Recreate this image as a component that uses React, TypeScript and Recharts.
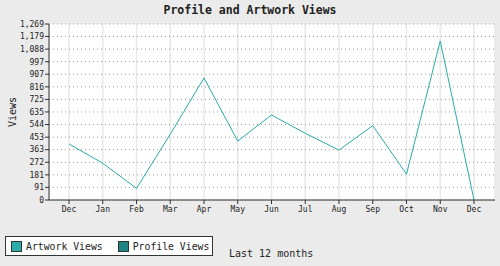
import React from "react";
import { LineChart, Line, XAxis, YAxis, CartesianGrid } from "recharts";

const months = ["Dec", "Jan", "Feb", "Mar", "Apr", "May", "Jun", "Jul", "Aug", "Sep", "Oct", "Nov", "Dec"];
const artworkViews = [404, 265, 84, 474, 880, 425, 613, 481, 360, 536, 187, 1146, 0];
const yTicks = [0, 91, 181, 272, 363, 453, 544, 635, 725, 816, 907, 997, 1088, 1179, 1269];
const seriesNames = ["Artwork Views", "Profile Views"];
const seriesColors = ["#2aaca8", "#1f8584"];

const data = months.map((m, i) => ({ idx: i, month: m, artwork: artworkViews[i] }));

const FONT = "'DejaVu Sans Mono', monospace";

const LegendBox = () => (
  <div
    style={{
      position: "absolute",
      left: 5,
      top: 236,
      display: "flex",
      alignItems: "center",
      border: "1px solid #333",
      background: "#fff",
      width: 206,
      height: 18,
      boxSizing: "content-box",
      fontFamily: FONT,
      fontSize: 9.8,
      color: "#222",
      whiteSpace: "nowrap",
    }}
  >
    {seriesNames.map((n, i) => (
      <div key={n} style={{ display: "flex", alignItems: "center", marginLeft: i === 0 ? 5 : 15 }}>
        <div style={{ width: 9, height: 9, background: seriesColors[i], border: "1px solid #333", marginRight: 4 }} />
        <span>{n}</span>
      </div>
    ))}
  </div>
);

export default function App() {
  return (
    <div style={{ position: "absolute", left: 0, top: 0, width: 500, height: 266, background: "#ebebeb", overflow: "hidden" }}>
      <div
        style={{
          position: "absolute",
          left: 0,
          top: 3,
          width: 500,
          textAlign: "center",
          fontFamily: FONT,
          fontWeight: "bold",
          fontSize: 11.5,
          color: "#222",
        }}
      >
        Profile and Artwork Views
      </div>
      <div
        style={{
          position: "absolute",
          left: 12,
          top: 112,
          transform: "translate(-50%, -50%) rotate(-90deg)",
          fontFamily: FONT,
          fontSize: 10,
          color: "#222",
          whiteSpace: "nowrap",
        }}
      >
        Views
      </div>
      <div
        style={{
          position: "absolute",
          left: 229,
          top: 248,
          fontFamily: FONT,
          fontSize: 10,
          color: "#222",
          whiteSpace: "nowrap",
        }}
      >
        Last 12 months
      </div>
      <LegendBox />
      <div style={{ position: "absolute", left: 0, top: 0 }}>
        <LineChart width={500} height={266} data={data} margin={{ top: 24, right: 5, bottom: 46, left: 0 }}>
          <CartesianGrid fill="#fff" horizontal={false} vertical={true} stroke="#e8e8e8" strokeWidth={1.5} />
          <CartesianGrid horizontal={true} vertical={false} stroke="#999" strokeDasharray="1 3" />
          <XAxis
            dataKey="idx"
            type="category"
            padding={{ left: 20, right: 21 }}
            tickFormatter={(v: number) => months[v]}
            stroke="#333"
            tickSize={4}
            tickMargin={2}
            tick={{ fontFamily: FONT, fontSize: 8, fill: "#222" }}
            interval={0}
            height={20}
          />
          <XAxis xAxisId="top" orientation="top" dataKey="idx" tick={false} tickLine={false} stroke="#aaa" height={0} />
          <YAxis
            domain={[0, 1269]}
            ticks={yTicks}
            tickFormatter={(v: number) => v.toLocaleString("en-US")}
            stroke="#333"
            tickSize={4}
            tickMargin={1}
            tick={{ fontFamily: FONT, fontSize: 8, fill: "#222" }}
            interval={0}
            width={49}
            allowDataOverflow
          />
          <YAxis yAxisId="right" orientation="right" tick={false} tickLine={false} stroke="#aaa" width={0} />
          <Line
            dataKey="artwork"
            stroke={seriesColors[0]}
            strokeWidth={1}
            dot={false}
            isAnimationActive={false}
            type="linear"
          />
        </LineChart>
      </div>
    </div>
  );
}
